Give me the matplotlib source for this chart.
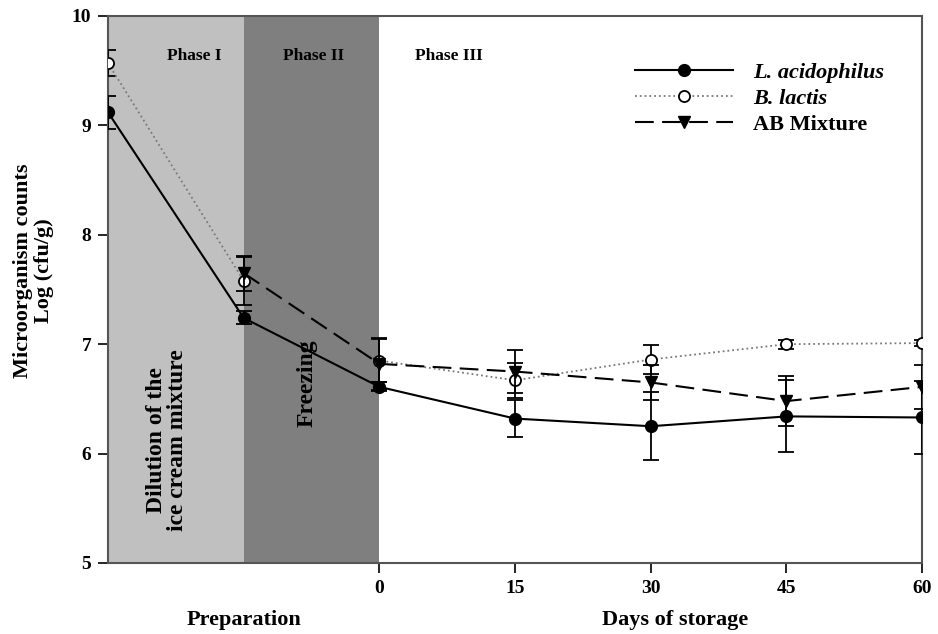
import numpy as np
import matplotlib
matplotlib.use("Agg")
import matplotlib.pyplot as plt
from matplotlib.lines import Line2D

plt.rcParams['font.family'] = ['Liberation Serif', 'DejaVu Serif']
plt.rcParams['font.weight'] = 'bold'

# x positions: -30 and -15 are preparation steps, 0..60 days of storage
x_pos = [-30, -15, 0, 15, 30, 45, 60]
x_ticks = [0, 15, 30, 45, 60]

la_mean = [9.12, 7.24, 6.61, 6.32, 6.25, 6.34, 6.33]
la_err = [0.15, 0.06, 0.04, 0.17, 0.31, 0.33, 0.33]

bl_mean = [9.57, 7.58, 6.85, 6.67, 6.86, 7.00, 7.01]
bl_err = [0.12, 0.22, 0.20, 0.16, 0.13, 0.04, 0.03]

ab_mean = [np.nan, 7.65, 6.82, 6.75, 6.65, 6.48, 6.61]
ab_err = [np.nan, 0.16, 0.24, 0.20, 0.16, 0.23, 0.20]

fig = plt.figure(figsize=(9.38, 6.34), dpi=100)
ax = fig.add_axes([0.1151, 0.112, 0.868, 0.8628])

ax.axvspan(-30, -15, color='#c0c0c0', zorder=0, lw=0)
ax.axvspan(-15, 0, color='#7f7f7f', zorder=0, lw=0)

ekw = dict(ecolor='black', elinewidth=1.3, capsize=6, capthick=1.3)
ax.errorbar(x_pos, bl_mean, yerr=bl_err, fmt='o', ls=':', color='#7a7a7a',
            mfc='white', mec='black', mew=1.3, ms=8, lw=1.3, zorder=3, **ekw)
ax.errorbar(x_pos, ab_mean, yerr=ab_err, fmt='v', ls=(0, (9, 4)), color='black',
            mfc='black', mec='black', ms=8, lw=1.5, zorder=4, **ekw)
ax.errorbar(x_pos, la_mean, yerr=la_err, fmt='o', ls='-', color='black',
            mfc='black', mec='black', ms=8.5, lw=1.5, zorder=5, **ekw)

ax.set_xlim(-30, 60)
ax.set_ylim(5, 10)
ax.set_xticks(x_ticks)
ax.set_xticklabels([str(t) for t in x_ticks])
ax.set_yticks([5, 6, 7, 8, 9, 10])
ax.tick_params(axis='both', direction='out', length=7, width=1.2, labelsize=14, pad=5)
for lab in ax.get_xticklabels() + ax.get_yticklabels():
    lab.set_fontweight('bold')
for sp in ax.spines.values():
    sp.set_linewidth(1.5)
    sp.set_color('#555555')

ax.set_ylabel('Microorganism counts\nLog (cfu/g)', fontsize=16, fontweight='bold', linespacing=1.05)
ax.yaxis.set_label_coords(-0.066, 0.535)

# Phase labels
ax.text(-20.5, 9.63, 'Phase I', fontsize=12.5, fontweight='bold', ha='center', va='center')
ax.text(-7.3, 9.63, 'Phase II', fontsize=12.5, fontweight='bold', ha='center', va='center')
ax.text(7.7, 9.63, 'Phase III', fontsize=12.5, fontweight='bold', ha='center', va='center')

ax.text(-23.5, 6.12, 'Dilution of the\nice cream mixture', fontsize=17, fontweight='bold',
        rotation=90, ha='center', va='center', linespacing=1.0)
ax.text(-8.0, 6.64, 'Freezing', fontsize=17, fontweight='bold',
        rotation=90, ha='center', va='center')

trans = ax.get_xaxis_transform()
ax.text(-15, -0.104, 'Preparation', transform=trans, fontsize=16, fontweight='bold',
        ha='center', va='center')
ax.text(32.7, -0.104, 'Days of storage', transform=trans, fontsize=16, fontweight='bold',
        ha='center', va='center')

handles = [
    Line2D([], [], color='black', ls='-', lw=1.5, marker='o', ms=8.5, mfc='black', mec='black'),
    Line2D([], [], color='#7a7a7a', ls=':', lw=1.3, marker='o', ms=8, mfc='white', mec='black', mew=1.3),
    Line2D([], [], color='black', ls=(0, (9, 4)), lw=1.5, marker='v', ms=8, mfc='black', mec='black'),
]
leg = ax.legend(handles, ['L. acidophilus', 'B. lactis', 'AB Mixture'], loc='upper left',
                bbox_to_anchor=(0.637, 0.932), frameon=False, handlelength=4.4,
                fontsize=16, labelspacing=0.25, handletextpad=0.9, borderaxespad=0)
for i, t in enumerate(leg.get_texts()):
    t.set_fontweight('bold')
    if i < 2:
        t.set_fontstyle('italic')

fig.savefig('out.png', dpi=100)
